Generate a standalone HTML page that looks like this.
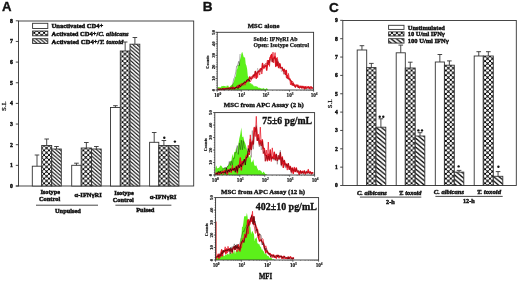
<!DOCTYPE html>
<html><head><meta charset="utf-8"><style>
html,body{margin:0;padding:0;background:#fff;width:520px;height:281px;overflow:hidden}
svg{display:block;will-change:transform;filter:blur(0.3px)}
</style></head><body>
<svg width="520" height="281" viewBox="0 0 520 281">
<rect width="520" height="281" fill="#fff"/>
<defs>
<pattern id="px" width="4.9" height="4.7" patternUnits="userSpaceOnUse"><rect width="4.9" height="4.7" fill="#fff"/><path d="M0,0L4.9,4.7M4.9,0L0,4.7" stroke="#000" stroke-width="0.8"/><circle cx="0" cy="0" r="1.06"/><circle cx="4.9" cy="0" r="1.06"/><circle cx="0" cy="4.7" r="1.06"/><circle cx="4.9" cy="4.7" r="1.06"/><circle cx="2.45" cy="2.35" r="1.06"/></pattern>
<pattern id="pd" width="4.1" height="3.6" patternUnits="userSpaceOnUse"><rect width="4.1" height="3.6" fill="#fff"/><path d="M-1,-0.878L5.1,4.478M-5.1,-0.878L1,4.478M3.1,-0.878L9.2,4.478" stroke="#000" stroke-width="1.05"/></pattern>
<pattern id="pdC" width="5.3" height="4.4" patternUnits="userSpaceOnUse"><rect width="5.3" height="4.4" fill="#fff"/><path d="M-1,-0.830L6.3,5.230M-6.3,-0.830L1,5.230M4.3,-0.830L11.6,5.230" stroke="#000" stroke-width="1.2"/></pattern>
</defs>
<text x="1.9" y="11.0" font-family="'Liberation Sans', sans-serif" font-size="13.2" font-weight="bold" font-style="normal" text-anchor="start" fill="#111" stroke="#111" stroke-width="0.35">A</text>
<rect x="18.5" y="21" width="175.2" height="165" fill="none" stroke="#333" stroke-width="0.9"/>
<line x1="15.8" y1="186" x2="18.5" y2="186" stroke="#333" stroke-width="0.9"/>
<line x1="15.8" y1="186.0" x2="18.5" y2="186.0" stroke="#333" stroke-width="0.9"/>
<text x="13.0" y="187.8" font-family="'Liberation Serif', serif" font-size="5.8" font-weight="bold" font-style="normal" text-anchor="end" fill="#111" stroke="#111" stroke-width="0.45">0</text>
<line x1="15.8" y1="165.35" x2="18.5" y2="165.35" stroke="#333" stroke-width="0.9"/>
<text x="13.0" y="167.15" font-family="'Liberation Serif', serif" font-size="5.8" font-weight="bold" font-style="normal" text-anchor="end" fill="#111" stroke="#111" stroke-width="0.45">1</text>
<line x1="15.8" y1="144.7" x2="18.5" y2="144.7" stroke="#333" stroke-width="0.9"/>
<text x="13.0" y="146.5" font-family="'Liberation Serif', serif" font-size="5.8" font-weight="bold" font-style="normal" text-anchor="end" fill="#111" stroke="#111" stroke-width="0.45">2</text>
<line x1="15.8" y1="124.05000000000001" x2="18.5" y2="124.05000000000001" stroke="#333" stroke-width="0.9"/>
<text x="13.0" y="125.85000000000001" font-family="'Liberation Serif', serif" font-size="5.8" font-weight="bold" font-style="normal" text-anchor="end" fill="#111" stroke="#111" stroke-width="0.45">3</text>
<line x1="15.8" y1="103.4" x2="18.5" y2="103.4" stroke="#333" stroke-width="0.9"/>
<text x="13.0" y="105.2" font-family="'Liberation Serif', serif" font-size="5.8" font-weight="bold" font-style="normal" text-anchor="end" fill="#111" stroke="#111" stroke-width="0.45">4</text>
<line x1="15.8" y1="82.75" x2="18.5" y2="82.75" stroke="#333" stroke-width="0.9"/>
<text x="13.0" y="84.55" font-family="'Liberation Serif', serif" font-size="5.8" font-weight="bold" font-style="normal" text-anchor="end" fill="#111" stroke="#111" stroke-width="0.45">5</text>
<line x1="15.8" y1="62.10000000000001" x2="18.5" y2="62.10000000000001" stroke="#333" stroke-width="0.9"/>
<text x="13.0" y="63.900000000000006" font-family="'Liberation Serif', serif" font-size="5.8" font-weight="bold" font-style="normal" text-anchor="end" fill="#111" stroke="#111" stroke-width="0.45">6</text>
<line x1="15.8" y1="41.45000000000002" x2="18.5" y2="41.45000000000002" stroke="#333" stroke-width="0.9"/>
<text x="13.0" y="43.250000000000014" font-family="'Liberation Serif', serif" font-size="5.8" font-weight="bold" font-style="normal" text-anchor="end" fill="#111" stroke="#111" stroke-width="0.45">7</text>
<line x1="15.8" y1="20.80000000000001" x2="18.5" y2="20.80000000000001" stroke="#333" stroke-width="0.9"/>
<text x="13.0" y="22.600000000000012" font-family="'Liberation Serif', serif" font-size="5.8" font-weight="bold" font-style="normal" text-anchor="end" fill="#111" stroke="#111" stroke-width="0.45">8</text>
<text x="0" y="0" font-family="'Liberation Serif', serif" font-size="7.0" font-weight="normal" font-style="normal" text-anchor="middle" fill="#111" stroke="#111" stroke-width="0.25" transform="translate(6.2,106.1) rotate(-90)">S.I.</text>
<rect x="32.6" y="23.3" width="15.2" height="5.199999999999999" fill="#fff" stroke="#333" stroke-width="0.9"/>
<rect x="32.6" y="31.0" width="15.2" height="4.799999999999997" fill="url(#px)" stroke="#333" stroke-width="0.9"/>
<rect x="32.6" y="38.7" width="15.2" height="4.799999999999997" fill="url(#pd)" stroke="#333" stroke-width="0.9"/>
<text x="51.6" y="28.1" font-family="'Liberation Serif', serif" font-size="6.5" font-weight="bold" font-style="normal" text-anchor="start" fill="#111" stroke="#111" stroke-width="0.45" textLength="51.6" lengthAdjust="spacingAndGlyphs">Unactivated CD4+</text>
<text x="51.6" y="35.8" font-family="'Liberation Serif', serif" font-size="6.5" font-weight="bold" fill="#111" stroke="#111" stroke-width="0.45" textLength="77.0" lengthAdjust="spacingAndGlyphs">Activated CD4+/<tspan font-style="italic">C. albicans</tspan></text>
<text x="51.6" y="43.5" font-family="'Liberation Serif', serif" font-size="6.5" font-weight="bold" fill="#111" stroke="#111" stroke-width="0.45" textLength="71.8" lengthAdjust="spacingAndGlyphs">Activated CD4+/<tspan font-style="italic">T. toxoid</tspan></text>
<rect x="32.3" y="166.2" width="9.400000000000006" height="19.80000000000001" fill="#fff" stroke="#333" stroke-width="0.9"/>
<line x1="37.0" y1="166.2" x2="37.0" y2="155" stroke="#333" stroke-width="0.9"/>
<line x1="34.7" y1="155" x2="39.3" y2="155" stroke="#333" stroke-width="0.9"/>
<rect x="41.7" y="145.5" width="10.0" height="40.5" fill="url(#px)" stroke="#333" stroke-width="0.9"/>
<line x1="46.7" y1="145.5" x2="46.7" y2="139" stroke="#333" stroke-width="0.9"/>
<line x1="44.400000000000006" y1="139" x2="49.0" y2="139" stroke="#333" stroke-width="0.9"/>
<rect x="51.7" y="149" width="9.599999999999994" height="37" fill="url(#pd)" stroke="#333" stroke-width="0.9"/>
<line x1="56.5" y1="149" x2="56.5" y2="146.5" stroke="#333" stroke-width="0.9"/>
<line x1="54.2" y1="146.5" x2="58.8" y2="146.5" stroke="#333" stroke-width="0.9"/>
<rect x="71.7" y="165.3" width="9.5" height="20.69999999999999" fill="#fff" stroke="#333" stroke-width="0.9"/>
<line x1="76.45" y1="165.3" x2="76.45" y2="163.2" stroke="#333" stroke-width="0.9"/>
<line x1="74.15" y1="163.2" x2="78.75" y2="163.2" stroke="#333" stroke-width="0.9"/>
<rect x="81.2" y="148" width="10.299999999999997" height="38" fill="url(#px)" stroke="#333" stroke-width="0.9"/>
<line x1="86.35" y1="148" x2="86.35" y2="142.5" stroke="#333" stroke-width="0.9"/>
<line x1="84.05" y1="142.5" x2="88.64999999999999" y2="142.5" stroke="#333" stroke-width="0.9"/>
<rect x="91.5" y="149" width="9.700000000000003" height="37" fill="url(#pd)" stroke="#333" stroke-width="0.9"/>
<line x1="96.35" y1="149" x2="96.35" y2="146.5" stroke="#333" stroke-width="0.9"/>
<line x1="94.05" y1="146.5" x2="98.64999999999999" y2="146.5" stroke="#333" stroke-width="0.9"/>
<rect x="110.5" y="107.5" width="9.799999999999997" height="78.5" fill="#fff" stroke="#333" stroke-width="0.9"/>
<line x1="115.4" y1="107.5" x2="115.4" y2="105.7" stroke="#333" stroke-width="0.9"/>
<line x1="113.10000000000001" y1="105.7" x2="117.7" y2="105.7" stroke="#333" stroke-width="0.9"/>
<rect x="120.3" y="51" width="9.700000000000003" height="135" fill="url(#px)" stroke="#333" stroke-width="0.9"/>
<line x1="125.15" y1="51" x2="125.15" y2="42" stroke="#333" stroke-width="0.9"/>
<line x1="122.85000000000001" y1="42" x2="127.45" y2="42" stroke="#333" stroke-width="0.9"/>
<rect x="130" y="44.2" width="9.800000000000011" height="141.8" fill="url(#pd)" stroke="#333" stroke-width="0.9"/>
<line x1="134.9" y1="44.2" x2="134.9" y2="37.5" stroke="#333" stroke-width="0.9"/>
<line x1="132.6" y1="37.5" x2="137.20000000000002" y2="37.5" stroke="#333" stroke-width="0.9"/>
<rect x="149.6" y="142.3" width="9.200000000000017" height="43.69999999999999" fill="#fff" stroke="#333" stroke-width="0.9"/>
<line x1="154.2" y1="142.3" x2="154.2" y2="132.5" stroke="#333" stroke-width="0.9"/>
<line x1="151.89999999999998" y1="132.5" x2="156.5" y2="132.5" stroke="#333" stroke-width="0.9"/>
<rect x="158.8" y="145.5" width="10.199999999999989" height="40.5" fill="url(#px)" stroke="#333" stroke-width="0.9"/>
<line x1="163.9" y1="145.5" x2="163.9" y2="140.5" stroke="#333" stroke-width="0.9"/>
<line x1="161.6" y1="140.5" x2="166.20000000000002" y2="140.5" stroke="#333" stroke-width="0.9"/>
<rect x="169" y="145.6" width="9.900000000000006" height="40.400000000000006" fill="url(#pd)" stroke="#333" stroke-width="0.9"/>
<circle cx="164.3" cy="137.8" r="1.2" fill="#111"/>
<circle cx="174.9" cy="141.6" r="1.2" fill="#111"/>
<text x="50.2" y="193.8" font-family="'Liberation Serif', serif" font-size="6.4" font-weight="bold" font-style="normal" text-anchor="middle" fill="#111" stroke="#111" stroke-width="0.45" textLength="19.6" lengthAdjust="spacingAndGlyphs">Isotype</text>
<text x="49.6" y="201.2" font-family="'Liberation Serif', serif" font-size="6.4" font-weight="bold" font-style="normal" text-anchor="middle" fill="#111" stroke="#111" stroke-width="0.45" textLength="21.4" lengthAdjust="spacingAndGlyphs">Control</text>
<text x="124.0" y="195.0" font-family="'Liberation Serif', serif" font-size="6.4" font-weight="bold" font-style="normal" text-anchor="middle" fill="#111" stroke="#111" stroke-width="0.45" textLength="19.6" lengthAdjust="spacingAndGlyphs">Isotype</text>
<text x="123.3" y="202.0" font-family="'Liberation Serif', serif" font-size="6.4" font-weight="bold" font-style="normal" text-anchor="middle" fill="#111" stroke="#111" stroke-width="0.45" textLength="21.1" lengthAdjust="spacingAndGlyphs">Control</text>
<text x="88.2" y="197.4" font-family="'Liberation Serif', serif" font-size="6.4" font-weight="bold" font-style="normal" text-anchor="middle" fill="#111" stroke="#111" stroke-width="0.45" textLength="27.2" lengthAdjust="spacingAndGlyphs">α-IFNγRI</text>
<text x="163.1" y="198.7" font-family="'Liberation Serif', serif" font-size="6.4" font-weight="bold" font-style="normal" text-anchor="middle" fill="#111" stroke="#111" stroke-width="0.45" textLength="26.9" lengthAdjust="spacingAndGlyphs">α-IFNγRI</text>
<line x1="36" y1="205.2" x2="98" y2="205.2" stroke="#333" stroke-width="0.9"/>
<line x1="115.4" y1="205.2" x2="171.4" y2="205.2" stroke="#333" stroke-width="0.9"/>
<text x="67.9" y="212.8" font-family="'Liberation Serif', serif" font-size="6.4" font-weight="bold" font-style="normal" text-anchor="middle" fill="#111" stroke="#111" stroke-width="0.45" textLength="25.8" lengthAdjust="spacingAndGlyphs">Unpulsed</text>
<text x="145.3" y="212.1" font-family="'Liberation Serif', serif" font-size="6.4" font-weight="bold" font-style="normal" text-anchor="middle" fill="#111" stroke="#111" stroke-width="0.45" textLength="18.2" lengthAdjust="spacingAndGlyphs">Pulsed</text>
<text x="202.7" y="11.4" font-family="'Liberation Sans', sans-serif" font-size="13.6" font-weight="bold" font-style="normal" text-anchor="start" fill="#111" stroke="#111" stroke-width="0.35">B</text>
<path d="M217.7,90 L217.70,87.54 L218.40,86.95 L219.10,87.24 L219.80,87.15 L220.50,87.39 L221.20,86.80 L221.90,85.79 L222.60,86.17 L223.30,85.70 L224.00,86.17 L224.70,86.01 L225.40,86.09 L226.10,87.30 L226.80,85.51 L227.50,85.69 L228.20,85.60 L228.90,86.99 L229.60,86.88 L230.30,86.09 L231.00,85.61 L231.70,84.84 L232.40,84.60 L233.10,83.35 L233.80,81.96 L234.50,78.90 L235.20,77.01 L235.90,76.17 L236.60,69.92 L237.30,68.73 L238.00,64.83 L238.70,65.20 L239.40,62.94 L240.10,59.74 L240.80,56.93 L241.50,53.16 L242.20,51.71 L242.90,53.89 L243.60,56.79 L244.30,57.72 L245.00,57.00 L245.70,63.89 L246.40,65.38 L247.10,68.80 L247.80,75.99 L248.50,77.36 L249.20,78.08 L249.90,83.73 L250.60,82.91 L251.30,83.40 L252.00,84.70 L252.70,84.30 L253.40,85.41 L254.10,86.85 L254.80,85.68 L255.50,86.26 L256.20,86.47 L256.90,86.33 L257.60,87.11 L258.30,87.39 L259.00,88.30 L259.70,87.42 L260.40,88.17 L261.10,88.18 L261.80,88.67 L262.50,88.62 L263.20,88.50 L263.90,87.78 L264.60,89.34 L265.30,89.17 L266.00,88.56 L266.70,88.19 L267.40,88.84 L268.10,89.95 L268.80,90.00 L269.50,90.00 L270.20,90.00 L270.90,90.00 L271.60,90.00 L272.30,90.00 L273.00,90.00 L273.70,90.00 L274.40,90.00 L275.10,90.00 L275.80,90.00 L276.50,90.00 L277.20,90.00 L277.90,90.00 L278.60,90.00 L279.30,90.00 L280.00,90.00 L280.70,90.00 L281.40,90.00 L282.10,90.00 L282.80,90.00 L283.50,90.00 L284.20,90.00 L284.90,90.00 L285.60,90.00 L286.30,90.00 L287.00,90.00 L287.70,90.00 L288.40,90.00 L289.10,90.00 L289.80,90.00 L290.50,90.00 L291.20,90.00 L291.90,90.00 L292.60,90.00 L293.30,90.00 L294.00,90.00 L294.70,90.00 L295.40,90.00 L296.10,90.00 L296.80,90.00 L297.50,90.00 L298.20,90.00 L298.90,90.00 L299.60,90.00 L300.30,90.00 L301.00,90.00 L301.70,90.00 L302.40,90.00 L303.10,90.00 L303.80,90.00 L304.50,90.00 L305.20,90.00 L305.90,90.00 L306.60,90.00 L307.30,90.00 L308.00,90.00 L308.70,90.00 L309.40,90.00 L310.10,90.00 L310.80,90.00 L311.50,90.00 L312.20,90.00 L312.90,90.00 L313.1,90 Z" fill="#5cf01a" stroke="none"/>
<path d="M230.30,89.60 L231.00,86.98 L231.70,87.03 L232.40,86.50 L233.10,82.12 L233.80,78.79 L234.50,77.67 L235.20,74.73 L235.90,71.77 L236.60,66.17 L237.30,66.21 L238.00,63.96 L238.70,61.34 L239.40,65.76 L240.10,54.01" fill="none" stroke="#111" stroke-width="0.6" opacity="0.6"/>
<path d="M217.70,89.18 L218.40,89.25 L219.10,89.60 L219.80,89.55 L220.50,88.99 L221.20,89.60 L221.90,89.27 L222.60,88.76 L223.30,89.60 L224.00,88.41 L224.70,88.79 L225.40,89.02 L226.10,88.75 L226.80,88.52 L227.50,88.69 L228.20,88.13 L228.90,88.94 L229.60,88.75 L230.30,87.93 L231.00,88.39 L231.70,88.81 L232.40,87.69 L233.10,87.23 L233.80,88.21 L234.50,88.66 L235.20,87.75 L235.90,87.62 L236.60,87.48 L237.30,85.99 L238.00,87.53 L238.70,85.50 L239.40,87.26 L240.10,86.61 L240.80,84.96 L241.50,84.05 L242.20,83.85 L242.90,83.91 L243.60,83.69 L244.30,83.26 L245.00,82.36 L245.70,82.71 L246.40,81.69 L247.10,80.83 L247.80,81.04 L248.50,79.56 L249.20,79.31 L249.90,76.84 L250.60,78.51 L251.30,78.94 L252.00,78.25 L252.70,77.09 L253.40,75.01 L254.10,76.34 L254.80,74.56 L255.50,71.52 L256.20,78.24 L256.90,75.22 L257.60,72.23 L258.30,71.32 L259.00,70.97 L259.70,71.56 L260.40,68.91 L261.10,68.97 L261.80,69.89 L262.50,63.49 L263.20,66.91 L263.90,68.11 L264.60,66.56 L265.30,66.17 L266.00,65.13 L266.70,70.11 L267.40,64.65 L268.10,60.64 L268.80,64.41 L269.50,60.90 L270.20,57.55 L270.90,56.87 L271.60,54.46 L272.30,61.64 L273.00,58.59 L273.70,58.74 L274.40,57.03 L275.10,56.84 L275.80,66.40 L276.50,58.80 L277.20,65.50 L277.90,61.87 L278.60,67.57 L279.30,65.03 L280.00,63.89 L280.70,67.57 L281.40,67.83 L282.10,67.60 L282.80,69.80 L283.50,71.16 L284.20,69.20 L284.90,71.04 L285.60,74.40 L286.30,70.48 L287.00,77.80 L287.70,75.67 L288.40,78.44 L289.10,78.83 L289.80,79.04 L290.50,80.66 L291.20,81.14 L291.90,84.58 L292.60,85.07 L293.30,83.34 L294.00,85.45 L294.70,85.99 L295.40,86.85 L296.10,84.96 L296.80,85.59 L297.50,85.20 L298.20,87.28 L298.90,86.72 L299.60,87.74 L300.30,86.52 L301.00,86.14 L301.70,88.02 L302.40,86.49 L303.10,86.90 L303.80,87.70 L304.50,88.89 L305.20,86.74 L305.90,87.74 L306.60,88.09 L307.30,87.49 L308.00,87.52 L308.70,86.87 L309.40,88.47 L310.10,87.17 L310.80,86.99 L311.50,87.05 L312.20,88.07 L312.90,88.44" fill="none" stroke="#dc1420" stroke-width="1.45" stroke-linejoin="round"/>
<path d="M217.70,89.09 L218.40,89.38 L219.10,89.33 L219.80,88.75 L220.50,89.40 L221.20,89.60 L221.90,89.37 L222.60,89.60 L223.30,88.72 L224.00,88.91 L224.70,89.32 L225.40,88.96 L226.10,88.45 L226.80,88.78 L227.50,88.00 L228.20,88.72 L228.90,87.99 L229.60,87.63 L230.30,87.47 L231.00,88.83 L231.70,87.76 L232.40,89.48 L233.10,88.84 L233.80,89.36 L234.50,87.00 L235.20,88.61 L235.90,87.53 L236.60,87.43 L237.30,87.04 L238.00,87.29 L238.70,86.27 L239.40,84.47 L240.10,85.90 L240.80,84.95 L241.50,83.98 L242.20,84.91 L242.90,85.78 L243.60,84.53 L244.30,82.03 L245.00,85.20 L245.70,83.33 L246.40,80.59 L247.10,80.37 L247.80,81.03 L248.50,79.30 L249.20,79.80 L249.90,81.49 L250.60,81.58 L251.30,79.43 L252.00,76.07 L252.70,78.09 L253.40,78.11 L254.10,77.27 L254.80,78.15 L255.50,74.78 L256.20,76.30 L256.90,72.54 L257.60,77.61 L258.30,71.33 L259.00,72.79 L259.70,75.06 L260.40,68.51 L261.10,70.14 L261.80,74.05 L262.50,70.31 L263.20,66.93 L263.90,68.10 L264.60,64.45 L265.30,63.84 L266.00,63.32 L266.70,63.47 L267.40,60.15 L268.10,61.12 L268.80,60.59 L269.50,66.43 L270.20,57.26 L270.90,55.19 L271.60,58.85 L272.30,58.92 L273.00,52.20 L273.70,62.94 L274.40,57.17 L275.10,52.61 L275.80,62.80 L276.50,59.39 L277.20,57.30 L277.90,63.66 L278.60,62.97 L279.30,63.14 L280.00,68.55 L280.70,67.48 L281.40,67.51 L282.10,67.23 L282.80,70.14 L283.50,71.43 L284.20,74.11 L284.90,73.62 L285.60,72.10 L286.30,74.75 L287.00,77.61 L287.70,78.58 L288.40,73.40 L289.10,77.11 L289.80,78.96 L290.50,84.87 L291.20,81.01 L291.90,82.22 L292.60,81.28 L293.30,83.45 L294.00,84.58 L294.70,84.44 L295.40,87.62 L296.10,84.99 L296.80,85.88 L297.50,87.05 L298.20,85.31 L298.90,85.07 L299.60,88.14 L300.30,87.65 L301.00,87.01 L301.70,87.28 L302.40,87.83 L303.10,88.32 L303.80,85.92 L304.50,86.81 L305.20,88.57 L305.90,88.71 L306.60,86.41 L307.30,86.99 L308.00,86.40 L308.70,87.20 L309.40,88.48 L310.10,87.68 L310.80,89.48 L311.50,88.47 L312.20,88.01 L312.90,87.62" fill="none" stroke="#e81828" stroke-width="0.75" stroke-linejoin="round"/>
<path d="M217.70,89.60 L218.40,89.46 L219.10,89.23 L219.80,89.20 L220.50,89.06 L221.20,89.17 L221.90,89.32 L222.60,88.85 L223.30,89.09 L224.00,89.40 L224.70,89.28 L225.40,88.96 L226.10,88.94 L226.80,88.75 L227.50,88.75 L228.20,88.60 L228.90,88.68 L229.60,89.18 L230.30,88.25 L231.00,87.84 L231.70,88.09 L232.40,88.33 L233.10,87.82 L233.80,88.52 L234.50,88.98 L235.20,87.62 L235.90,88.14 L236.60,86.76 L237.30,87.80 L238.00,88.74 L238.70,87.31 L239.40,84.94 L240.10,86.26 L240.80,86.74 L241.50,85.81 L242.20,84.18 L242.90,83.76 L243.60,83.66 L244.30,81.82 L245.00,82.21 L245.70,82.53 L246.40,81.31 L247.10,79.51 L247.80,79.82 L248.50,79.23 L249.20,81.49 L249.90,79.77" fill="none" stroke="#200" stroke-width="0.8" opacity="0.9"/>
<path d="M249.90,79.77 L250.60,77.94 L251.30,78.76 L252.00,76.13 L252.70,76.17 L253.40,75.04 L254.10,76.15 L254.80,71.06 L255.50,72.50 L256.20,74.28 L256.90,73.13 L257.60,68.12 L258.30,72.64 L259.00,69.82 L259.70,68.96 L260.40,70.13 L261.10,71.73 L261.80,68.52 L262.50,67.55 L263.20,65.38 L263.90,65.41 L264.60,66.31 L265.30,63.93 L266.00,63.87 L266.70,63.86 L267.40,63.48 L268.10,63.38 L268.80,60.27 L269.50,63.14 L270.20,61.20 L270.90,58.86 L271.60,61.48 L272.30,58.62 L273.00,62.54 L273.70,59.55 L274.40,57.16 L275.10,58.06 L275.80,60.37 L276.50,61.77 L277.20,65.43 L277.90,59.39 L278.60,63.30 L279.30,63.12 L280.00,68.14 L280.70,67.64 L281.40,71.77 L282.10,67.64 L282.80,68.31 L283.50,74.47 L284.20,72.03 L284.90,71.77 L285.60,76.87 L286.30,77.92 L287.00,77.67 L287.70,78.00 L288.40,80.09 L289.10,78.97 L289.80,79.64 L290.50,80.14 L291.20,81.06 L291.90,81.18 L292.60,82.20 L293.30,85.33 L294.00,85.00 L294.70,86.02 L295.40,86.50 L296.10,86.09 L296.80,86.20 L297.50,85.98 L298.20,87.79 L298.90,87.67 L299.60,86.92 L300.30,87.22 L301.00,87.47 L301.70,87.47 L302.40,88.02 L303.10,87.09 L303.80,87.35 L304.50,87.67 L305.20,88.08 L305.90,87.79 L306.60,89.44 L307.30,88.36 L308.00,87.75 L308.70,88.74 L309.40,87.71 L310.10,87.78 L310.80,88.74 L311.50,88.08 L312.20,88.15 L312.90,87.72" fill="none" stroke="#200" stroke-width="0.5" opacity="0.35"/>
<rect x="217.2" y="32.3" width="96.40000000000003" height="57.7" fill="none" stroke="#333" stroke-width="0.9"/>
<text x="247.8" y="28.3" font-family="'Liberation Serif', serif" font-size="6.9" font-weight="bold" font-style="normal" text-anchor="start" fill="#111" stroke="#111" stroke-width="0.35" textLength="31.599999999999966" lengthAdjust="spacingAndGlyphs">MSC alone</text>
<line x1="215.39999999999998" y1="90.0" x2="217.2" y2="90.0" stroke="#333" stroke-width="0.7"/>
<text x="0" y="0" font-family="'Liberation Serif', serif" font-size="4.9" font-weight="bold" font-style="normal" text-anchor="middle" fill="#111" stroke="#111" stroke-width="0.15" transform="translate(214.6,90.0) rotate(-90)">0</text>
<line x1="215.39999999999998" y1="78.46" x2="217.2" y2="78.46" stroke="#333" stroke-width="0.7"/>
<text x="0" y="0" font-family="'Liberation Serif', serif" font-size="4.9" font-weight="bold" font-style="normal" text-anchor="middle" fill="#111" stroke="#111" stroke-width="0.15" transform="translate(214.6,78.46) rotate(-90)">10</text>
<line x1="215.39999999999998" y1="66.92" x2="217.2" y2="66.92" stroke="#333" stroke-width="0.7"/>
<text x="0" y="0" font-family="'Liberation Serif', serif" font-size="4.9" font-weight="bold" font-style="normal" text-anchor="middle" fill="#111" stroke="#111" stroke-width="0.15" transform="translate(214.6,66.92) rotate(-90)">20</text>
<line x1="215.39999999999998" y1="55.379999999999995" x2="217.2" y2="55.379999999999995" stroke="#333" stroke-width="0.7"/>
<text x="0" y="0" font-family="'Liberation Serif', serif" font-size="4.9" font-weight="bold" font-style="normal" text-anchor="middle" fill="#111" stroke="#111" stroke-width="0.15" transform="translate(214.6,55.379999999999995) rotate(-90)">30</text>
<line x1="215.39999999999998" y1="43.839999999999996" x2="217.2" y2="43.839999999999996" stroke="#333" stroke-width="0.7"/>
<text x="0" y="0" font-family="'Liberation Serif', serif" font-size="4.9" font-weight="bold" font-style="normal" text-anchor="middle" fill="#111" stroke="#111" stroke-width="0.15" transform="translate(214.6,43.839999999999996) rotate(-90)">40</text>
<line x1="215.39999999999998" y1="32.3" x2="217.2" y2="32.3" stroke="#333" stroke-width="0.7"/>
<text x="0" y="0" font-family="'Liberation Serif', serif" font-size="4.9" font-weight="bold" font-style="normal" text-anchor="middle" fill="#111" stroke="#111" stroke-width="0.15" transform="translate(214.6,32.3) rotate(-90)">50</text>
<line x1="216.2" y1="90.0" x2="217.2" y2="90.0" stroke="#333" stroke-width="0.5"/>
<line x1="216.2" y1="87.692" x2="217.2" y2="87.692" stroke="#333" stroke-width="0.5"/>
<line x1="216.2" y1="85.384" x2="217.2" y2="85.384" stroke="#333" stroke-width="0.5"/>
<line x1="216.2" y1="83.076" x2="217.2" y2="83.076" stroke="#333" stroke-width="0.5"/>
<line x1="216.2" y1="80.768" x2="217.2" y2="80.768" stroke="#333" stroke-width="0.5"/>
<line x1="216.2" y1="78.46000000000001" x2="217.2" y2="78.46000000000001" stroke="#333" stroke-width="0.5"/>
<line x1="216.2" y1="76.152" x2="217.2" y2="76.152" stroke="#333" stroke-width="0.5"/>
<line x1="216.2" y1="73.844" x2="217.2" y2="73.844" stroke="#333" stroke-width="0.5"/>
<line x1="216.2" y1="71.536" x2="217.2" y2="71.536" stroke="#333" stroke-width="0.5"/>
<line x1="216.2" y1="69.228" x2="217.2" y2="69.228" stroke="#333" stroke-width="0.5"/>
<line x1="216.2" y1="66.92" x2="217.2" y2="66.92" stroke="#333" stroke-width="0.5"/>
<line x1="216.2" y1="64.612" x2="217.2" y2="64.612" stroke="#333" stroke-width="0.5"/>
<line x1="216.2" y1="62.303999999999995" x2="217.2" y2="62.303999999999995" stroke="#333" stroke-width="0.5"/>
<line x1="216.2" y1="59.995999999999995" x2="217.2" y2="59.995999999999995" stroke="#333" stroke-width="0.5"/>
<line x1="216.2" y1="57.687999999999995" x2="217.2" y2="57.687999999999995" stroke="#333" stroke-width="0.5"/>
<line x1="216.2" y1="55.38" x2="217.2" y2="55.38" stroke="#333" stroke-width="0.5"/>
<line x1="216.2" y1="53.071999999999996" x2="217.2" y2="53.071999999999996" stroke="#333" stroke-width="0.5"/>
<line x1="216.2" y1="50.763999999999996" x2="217.2" y2="50.763999999999996" stroke="#333" stroke-width="0.5"/>
<line x1="216.2" y1="48.455999999999996" x2="217.2" y2="48.455999999999996" stroke="#333" stroke-width="0.5"/>
<line x1="216.2" y1="46.148" x2="217.2" y2="46.148" stroke="#333" stroke-width="0.5"/>
<line x1="216.2" y1="43.84" x2="217.2" y2="43.84" stroke="#333" stroke-width="0.5"/>
<line x1="216.2" y1="41.532" x2="217.2" y2="41.532" stroke="#333" stroke-width="0.5"/>
<line x1="216.2" y1="39.224" x2="217.2" y2="39.224" stroke="#333" stroke-width="0.5"/>
<line x1="216.2" y1="36.916" x2="217.2" y2="36.916" stroke="#333" stroke-width="0.5"/>
<line x1="216.2" y1="34.60799999999999" x2="217.2" y2="34.60799999999999" stroke="#333" stroke-width="0.5"/>
<line x1="216.2" y1="32.3" x2="217.2" y2="32.3" stroke="#333" stroke-width="0.5"/>
<text x="0" y="0" font-family="'Liberation Serif', serif" font-size="4.3" font-weight="bold" font-style="normal" text-anchor="middle" fill="#111" stroke="#111" stroke-width="0.15" transform="translate(209.2,62.15) rotate(-90)">Counts</text>
<line x1="217.2" y1="90" x2="217.2" y2="91.8" stroke="#333" stroke-width="0.7"/>
<text x="217.7" y="96.6" font-family="'Liberation Serif', serif" font-size="5.2" font-weight="bold" text-anchor="middle" fill="#111" stroke="#111" stroke-width="0.15">10<tspan font-size="3.5" dy="-2.0">0</tspan></text>
<line x1="224.45482289550193" y1="90" x2="224.45482289550193" y2="91.0" stroke="#333" stroke-width="0.4"/>
<line x1="228.69862223874387" y1="90" x2="228.69862223874387" y2="91.0" stroke="#333" stroke-width="0.4"/>
<line x1="231.70964579100388" y1="90" x2="231.70964579100388" y2="91.0" stroke="#333" stroke-width="0.4"/>
<line x1="234.04517710449804" y1="90" x2="234.04517710449804" y2="91.0" stroke="#333" stroke-width="0.4"/>
<line x1="235.9534451342458" y1="90" x2="235.9534451342458" y2="91.0" stroke="#333" stroke-width="0.4"/>
<line x1="237.5668627643436" y1="90" x2="237.5668627643436" y2="91.0" stroke="#333" stroke-width="0.4"/>
<line x1="238.96446868650582" y1="90" x2="238.96446868650582" y2="91.0" stroke="#333" stroke-width="0.4"/>
<line x1="240.19724447748771" y1="90" x2="240.19724447748771" y2="91.0" stroke="#333" stroke-width="0.4"/>
<line x1="241.3" y1="90" x2="241.3" y2="91.8" stroke="#333" stroke-width="0.7"/>
<text x="241.8" y="96.6" font-family="'Liberation Serif', serif" font-size="5.2" font-weight="bold" text-anchor="middle" fill="#111" stroke="#111" stroke-width="0.15">10<tspan font-size="3.5" dy="-2.0">1</tspan></text>
<line x1="248.55482289550196" y1="90" x2="248.55482289550196" y2="91.0" stroke="#333" stroke-width="0.4"/>
<line x1="252.7986222387439" y1="90" x2="252.7986222387439" y2="91.0" stroke="#333" stroke-width="0.4"/>
<line x1="255.8096457910039" y1="90" x2="255.8096457910039" y2="91.0" stroke="#333" stroke-width="0.4"/>
<line x1="258.1451771044981" y1="90" x2="258.1451771044981" y2="91.0" stroke="#333" stroke-width="0.4"/>
<line x1="260.0534451342458" y1="90" x2="260.0534451342458" y2="91.0" stroke="#333" stroke-width="0.4"/>
<line x1="261.6668627643436" y1="90" x2="261.6668627643436" y2="91.0" stroke="#333" stroke-width="0.4"/>
<line x1="263.06446868650585" y1="90" x2="263.06446868650585" y2="91.0" stroke="#333" stroke-width="0.4"/>
<line x1="264.29724447748777" y1="90" x2="264.29724447748777" y2="91.0" stroke="#333" stroke-width="0.4"/>
<line x1="265.4" y1="90" x2="265.4" y2="91.8" stroke="#333" stroke-width="0.7"/>
<text x="265.9" y="96.6" font-family="'Liberation Serif', serif" font-size="5.2" font-weight="bold" text-anchor="middle" fill="#111" stroke="#111" stroke-width="0.15">10<tspan font-size="3.5" dy="-2.0">2</tspan></text>
<line x1="272.6548228955019" y1="90" x2="272.6548228955019" y2="91.0" stroke="#333" stroke-width="0.4"/>
<line x1="276.8986222387438" y1="90" x2="276.8986222387438" y2="91.0" stroke="#333" stroke-width="0.4"/>
<line x1="279.90964579100387" y1="90" x2="279.90964579100387" y2="91.0" stroke="#333" stroke-width="0.4"/>
<line x1="282.24517710449805" y1="90" x2="282.24517710449805" y2="91.0" stroke="#333" stroke-width="0.4"/>
<line x1="284.15344513424577" y1="90" x2="284.15344513424577" y2="91.0" stroke="#333" stroke-width="0.4"/>
<line x1="285.76686276434356" y1="90" x2="285.76686276434356" y2="91.0" stroke="#333" stroke-width="0.4"/>
<line x1="287.1644686865058" y1="90" x2="287.1644686865058" y2="91.0" stroke="#333" stroke-width="0.4"/>
<line x1="288.39724447748773" y1="90" x2="288.39724447748773" y2="91.0" stroke="#333" stroke-width="0.4"/>
<line x1="289.5" y1="90" x2="289.5" y2="91.8" stroke="#333" stroke-width="0.7"/>
<text x="290.0" y="96.6" font-family="'Liberation Serif', serif" font-size="5.2" font-weight="bold" text-anchor="middle" fill="#111" stroke="#111" stroke-width="0.15">10<tspan font-size="3.5" dy="-2.0">3</tspan></text>
<line x1="296.75482289550195" y1="90" x2="296.75482289550195" y2="91.0" stroke="#333" stroke-width="0.4"/>
<line x1="300.99862223874385" y1="90" x2="300.99862223874385" y2="91.0" stroke="#333" stroke-width="0.4"/>
<line x1="304.0096457910039" y1="90" x2="304.0096457910039" y2="91.0" stroke="#333" stroke-width="0.4"/>
<line x1="306.3451771044981" y1="90" x2="306.3451771044981" y2="91.0" stroke="#333" stroke-width="0.4"/>
<line x1="308.2534451342458" y1="90" x2="308.2534451342458" y2="91.0" stroke="#333" stroke-width="0.4"/>
<line x1="309.8668627643436" y1="90" x2="309.8668627643436" y2="91.0" stroke="#333" stroke-width="0.4"/>
<line x1="311.26446868650584" y1="90" x2="311.26446868650584" y2="91.0" stroke="#333" stroke-width="0.4"/>
<line x1="312.49724447748775" y1="90" x2="312.49724447748775" y2="91.0" stroke="#333" stroke-width="0.4"/>
<line x1="313.6" y1="90" x2="313.6" y2="91.8" stroke="#333" stroke-width="0.7"/>
<text x="314.1" y="96.6" font-family="'Liberation Serif', serif" font-size="5.2" font-weight="bold" text-anchor="middle" fill="#111" stroke="#111" stroke-width="0.15">10<tspan font-size="3.5" dy="-2.0">4</tspan></text>
<text x="253.5" y="40.5" font-family="'Liberation Serif', serif" font-size="6.3" font-weight="bold" font-style="normal" text-anchor="start" fill="#111" stroke="#111" stroke-width="0.25" textLength="43.9" lengthAdjust="spacingAndGlyphs">Solid:  IFNγRI Ab</text>
<text x="253.5" y="47.2" font-family="'Liberation Serif', serif" font-size="6.3" font-weight="bold" font-style="normal" text-anchor="start" fill="#111" stroke="#111" stroke-width="0.25" textLength="55.5" lengthAdjust="spacingAndGlyphs">Open:  Isotype Control</text>
<path d="M215.3,175 L215.30,168.82 L216.30,165.52 L217.30,168.40 L218.30,168.08 L219.30,167.46 L220.30,165.59 L221.30,165.83 L222.30,167.37 L223.30,168.72 L224.30,167.22 L225.30,168.10 L226.30,168.62 L227.30,165.91 L228.30,165.57 L229.30,163.16 L230.30,161.00 L231.30,161.81 L232.30,153.80 L233.30,157.89 L234.30,151.86 L235.30,152.23 L236.30,146.44 L237.30,153.50 L238.30,144.73 L239.30,138.40 L240.30,134.18 L241.30,127.40 L242.30,137.24 L243.30,136.42 L244.30,141.34 L245.30,143.57 L246.30,147.03 L247.30,151.06 L248.30,151.31 L249.30,158.12 L250.30,154.81 L251.30,162.59 L252.30,161.84 L253.30,159.33 L254.30,165.30 L255.30,166.09 L256.30,165.36 L257.30,168.26 L258.30,170.46 L259.30,169.96 L260.30,170.51 L261.30,171.05 L262.30,173.18 L263.30,171.60 L264.30,172.43 L265.30,173.98 L266.30,174.23 L267.30,175.00 L268.30,175.00 L269.30,175.00 L270.30,175.00 L271.30,175.00 L272.30,175.00 L273.30,175.00 L274.30,175.00 L275.30,175.00 L276.30,175.00 L277.30,175.00 L278.30,175.00 L279.30,175.00 L280.30,175.00 L281.30,175.00 L282.30,175.00 L283.30,175.00 L284.30,175.00 L285.30,175.00 L286.30,175.00 L287.30,175.00 L288.30,175.00 L289.30,175.00 L290.30,175.00 L291.30,175.00 L292.30,175.00 L293.30,175.00 L294.30,175.00 L295.30,175.00 L296.30,175.00 L297.30,175.00 L298.30,175.00 L299.30,175.00 L300.30,175.00 L301.30,175.00 L302.30,175.00 L303.30,175.00 L304.30,175.00 L305.30,175.00 L306.30,175.00 L307.30,175.00 L308.30,175.00 L309.30,175.00 L310.30,175.00 L311.30,175.00 L312.30,175.00 L313.30,175.00 L314.1,175 Z" fill="#5cf01a" stroke="none"/>
<path d="M216.30,174.13 L217.30,172.26 L218.30,173.47 L219.30,171.69 L220.30,172.36 L221.30,170.55 L222.30,171.64 L223.30,168.11 L224.30,169.10 L225.30,167.19 L226.30,168.76 L227.30,166.50 L228.30,166.20 L229.30,161.40 L230.30,165.46 L231.30,160.75 L232.30,165.64 L233.30,158.39 L234.30,158.43 L235.30,152.64 L236.30,152.60 L237.30,145.55 L238.30,154.44 L239.30,142.91 L240.30,149.74 L241.30,140.20 L242.30,149.84 L243.30,140.71 L244.30,148.07 L245.30,148.41" fill="none" stroke="#111" stroke-width="0.6" opacity="0.6"/>
<path d="M215.30,174.20 L216.30,173.58 L217.30,174.60 L218.30,173.29 L219.30,174.60 L220.30,172.83 L221.30,173.14 L222.30,171.87 L223.30,172.67 L224.30,170.76 L225.30,172.17 L226.30,170.83 L227.30,174.04 L228.30,169.69 L229.30,170.98 L230.30,169.58 L231.30,171.59 L232.30,167.98 L233.30,170.26 L234.30,168.50 L235.30,169.92 L236.30,166.99 L237.30,172.80 L238.30,165.28 L239.30,166.47 L240.30,157.95 L241.30,169.90 L242.30,161.63 L243.30,162.59 L244.30,160.32 L245.30,160.90 L246.30,156.72 L247.30,157.23 L248.30,153.46 L249.30,154.33 L250.30,139.27 L251.30,149.46 L252.30,141.94 L253.30,144.06 L254.30,127.98 L255.30,131.23 L256.30,127.47 L257.30,140.28 L258.30,135.24 L259.30,143.10 L260.30,140.59 L261.30,145.35 L262.30,139.84 L263.30,148.74 L264.30,148.58 L265.30,155.14 L266.30,155.51 L267.30,160.69 L268.30,154.27 L269.30,159.66 L270.30,149.98 L271.30,159.42 L272.30,157.02 L273.30,158.39 L274.30,152.28 L275.30,159.17 L276.30,154.67 L277.30,160.56 L278.30,158.09 L279.30,158.69 L280.30,152.79 L281.30,164.73 L282.30,157.28 L283.30,167.38 L284.30,160.54 L285.30,164.51 L286.30,164.08 L287.30,167.43 L288.30,163.91 L289.30,169.19 L290.30,166.45 L291.30,171.00 L292.30,168.03 L293.30,172.97 L294.30,168.26 L295.30,171.44 L296.30,168.06 L297.30,172.07 L298.30,171.17 L299.30,174.60 L300.30,171.21 L301.30,173.12 L302.30,171.36 L303.30,173.05 L304.30,170.79 L305.30,174.07 L306.30,172.01 L307.30,172.85 L308.30,170.73 L309.30,172.92 L310.30,171.97 L311.30,173.39 L312.30,172.69 L313.30,173.02" fill="none" stroke="#dc1420" stroke-width="1.45" stroke-linejoin="round"/>
<path d="M215.30,174.30 L216.30,172.41 L217.30,174.60 L218.30,172.80 L219.30,174.37 L220.30,171.74 L221.30,172.84 L222.30,171.26 L223.30,174.60 L224.30,171.44 L225.30,172.05 L226.30,171.24 L227.30,174.44 L228.30,171.02 L229.30,172.27 L230.30,169.63 L231.30,172.87 L232.30,165.06 L233.30,169.61 L234.30,168.46 L235.30,170.24 L236.30,165.83 L237.30,168.49 L238.30,165.22 L239.30,167.95 L240.30,160.46 L241.30,166.82 L242.30,163.16 L243.30,165.34 L244.30,160.18 L245.30,160.76 L246.30,154.67 L247.30,157.21 L248.30,145.38 L249.30,154.56 L250.30,134.85 L251.30,148.90 L252.30,141.84 L253.30,139.58 L254.30,126.92 L255.30,136.56 L256.30,116.34 L257.30,140.80 L258.30,134.11 L259.30,145.40 L260.30,127.14 L261.30,146.05 L262.30,145.14 L263.30,153.76 L264.30,148.63 L265.30,161.35 L266.30,150.06 L267.30,159.58 L268.30,142.03 L269.30,160.93 L270.30,155.37 L271.30,161.52 L272.30,147.86 L273.30,157.85 L274.30,156.87 L275.30,160.22 L276.30,154.27 L277.30,160.81 L278.30,155.32 L279.30,158.81 L280.30,158.87 L281.30,160.38 L282.30,156.60 L283.30,163.58 L284.30,162.34 L285.30,166.49 L286.30,164.83 L287.30,170.10 L288.30,163.31 L289.30,169.97 L290.30,167.17 L291.30,172.48 L292.30,169.25 L293.30,173.98 L294.30,166.92 L295.30,171.56 L296.30,169.17 L297.30,171.73 L298.30,171.28 L299.30,174.60 L300.30,170.21 L301.30,172.14 L302.30,171.64 L303.30,172.86 L304.30,172.16 L305.30,173.55 L306.30,171.79 L307.30,172.56 L308.30,168.97 L309.30,173.34 L310.30,171.60 L311.30,174.60 L312.30,172.27 L313.30,173.10" fill="none" stroke="#e81828" stroke-width="0.75" stroke-linejoin="round"/>
<path d="M215.30,174.60 L216.30,173.37 L217.30,174.32 L218.30,171.35 L219.30,173.17 L220.30,171.33 L221.30,173.69 L222.30,172.24 L223.30,172.45 L224.30,171.96 L225.30,173.70 L226.30,167.68 L227.30,172.49 L228.30,170.03 L229.30,171.69 L230.30,168.47 L231.30,171.18 L232.30,168.72 L233.30,170.10 L234.30,167.98 L235.30,172.24 L236.30,166.54 L237.30,171.45 L238.30,165.30 L239.30,167.90 L240.30,164.54 L241.30,166.95 L242.30,162.99 L243.30,163.33 L244.30,159.00 L245.30,165.06 L246.30,157.59 L247.30,157.23 L248.30,148.52 L249.30,152.11" fill="none" stroke="#200" stroke-width="0.8" opacity="0.9"/>
<path d="M249.30,152.11 L250.30,142.11 L251.30,157.36 L252.30,130.52 L253.30,149.25 L254.30,133.77 L255.30,129.93 L256.30,125.59 L257.30,140.47 L258.30,137.79 L259.30,146.99 L260.30,142.64 L261.30,149.94 L262.30,141.37 L263.30,153.35 L264.30,150.49 L265.30,161.10 L266.30,154.88 L267.30,159.52 L268.30,155.87 L269.30,159.90 L270.30,153.71 L271.30,158.82 L272.30,157.39 L273.30,160.30 L274.30,157.96 L275.30,160.78 L276.30,153.60 L277.30,164.33 L278.30,155.26 L279.30,160.18 L280.30,150.25 L281.30,166.35 L282.30,157.88 L283.30,161.73 L284.30,161.24 L285.30,168.16 L286.30,164.04 L287.30,166.53 L288.30,163.11 L289.30,169.37 L290.30,167.07 L291.30,173.65 L292.30,168.46 L293.30,170.73 L294.30,169.68 L295.30,171.64 L296.30,168.75 L297.30,171.71 L298.30,170.12 L299.30,172.48 L300.30,170.89 L301.30,173.34 L302.30,171.99 L303.30,174.60 L304.30,171.63 L305.30,172.59 L306.30,170.78 L307.30,173.62 L308.30,172.30 L309.30,173.94 L310.30,172.12 L311.30,173.48 L312.30,172.79 L313.30,174.60" fill="none" stroke="#200" stroke-width="0.5" opacity="0.5"/>
<rect x="214.8" y="112.6" width="99.80000000000001" height="62.400000000000006" fill="none" stroke="#333" stroke-width="0.9"/>
<text x="223.7" y="106.8" font-family="'Liberation Serif', serif" font-size="6.9" font-weight="bold" font-style="normal" text-anchor="start" fill="#111" stroke="#111" stroke-width="0.35" textLength="80.19999999999999" lengthAdjust="spacingAndGlyphs">MSC from APC Assay (2 h)</text>
<line x1="213.0" y1="175.0" x2="214.8" y2="175.0" stroke="#333" stroke-width="0.7"/>
<text x="0" y="0" font-family="'Liberation Serif', serif" font-size="4.9" font-weight="bold" font-style="normal" text-anchor="middle" fill="#111" stroke="#111" stroke-width="0.15" transform="translate(212.20000000000002,175.0) rotate(-90)">0</text>
<line x1="213.0" y1="162.52" x2="214.8" y2="162.52" stroke="#333" stroke-width="0.7"/>
<text x="0" y="0" font-family="'Liberation Serif', serif" font-size="4.9" font-weight="bold" font-style="normal" text-anchor="middle" fill="#111" stroke="#111" stroke-width="0.15" transform="translate(212.20000000000002,162.52) rotate(-90)">10</text>
<line x1="213.0" y1="150.04" x2="214.8" y2="150.04" stroke="#333" stroke-width="0.7"/>
<text x="0" y="0" font-family="'Liberation Serif', serif" font-size="4.9" font-weight="bold" font-style="normal" text-anchor="middle" fill="#111" stroke="#111" stroke-width="0.15" transform="translate(212.20000000000002,150.04) rotate(-90)">20</text>
<line x1="213.0" y1="137.56" x2="214.8" y2="137.56" stroke="#333" stroke-width="0.7"/>
<text x="0" y="0" font-family="'Liberation Serif', serif" font-size="4.9" font-weight="bold" font-style="normal" text-anchor="middle" fill="#111" stroke="#111" stroke-width="0.15" transform="translate(212.20000000000002,137.56) rotate(-90)">30</text>
<line x1="213.0" y1="125.08" x2="214.8" y2="125.08" stroke="#333" stroke-width="0.7"/>
<text x="0" y="0" font-family="'Liberation Serif', serif" font-size="4.9" font-weight="bold" font-style="normal" text-anchor="middle" fill="#111" stroke="#111" stroke-width="0.15" transform="translate(212.20000000000002,125.08) rotate(-90)">40</text>
<line x1="213.0" y1="112.6" x2="214.8" y2="112.6" stroke="#333" stroke-width="0.7"/>
<text x="0" y="0" font-family="'Liberation Serif', serif" font-size="4.9" font-weight="bold" font-style="normal" text-anchor="middle" fill="#111" stroke="#111" stroke-width="0.15" transform="translate(212.20000000000002,112.6) rotate(-90)">50</text>
<line x1="213.8" y1="175.0" x2="214.8" y2="175.0" stroke="#333" stroke-width="0.5"/>
<line x1="213.8" y1="172.504" x2="214.8" y2="172.504" stroke="#333" stroke-width="0.5"/>
<line x1="213.8" y1="170.008" x2="214.8" y2="170.008" stroke="#333" stroke-width="0.5"/>
<line x1="213.8" y1="167.512" x2="214.8" y2="167.512" stroke="#333" stroke-width="0.5"/>
<line x1="213.8" y1="165.016" x2="214.8" y2="165.016" stroke="#333" stroke-width="0.5"/>
<line x1="213.8" y1="162.52" x2="214.8" y2="162.52" stroke="#333" stroke-width="0.5"/>
<line x1="213.8" y1="160.024" x2="214.8" y2="160.024" stroke="#333" stroke-width="0.5"/>
<line x1="213.8" y1="157.528" x2="214.8" y2="157.528" stroke="#333" stroke-width="0.5"/>
<line x1="213.8" y1="155.03199999999998" x2="214.8" y2="155.03199999999998" stroke="#333" stroke-width="0.5"/>
<line x1="213.8" y1="152.536" x2="214.8" y2="152.536" stroke="#333" stroke-width="0.5"/>
<line x1="213.8" y1="150.04" x2="214.8" y2="150.04" stroke="#333" stroke-width="0.5"/>
<line x1="213.8" y1="147.54399999999998" x2="214.8" y2="147.54399999999998" stroke="#333" stroke-width="0.5"/>
<line x1="213.8" y1="145.048" x2="214.8" y2="145.048" stroke="#333" stroke-width="0.5"/>
<line x1="213.8" y1="142.552" x2="214.8" y2="142.552" stroke="#333" stroke-width="0.5"/>
<line x1="213.8" y1="140.05599999999998" x2="214.8" y2="140.05599999999998" stroke="#333" stroke-width="0.5"/>
<line x1="213.8" y1="137.56" x2="214.8" y2="137.56" stroke="#333" stroke-width="0.5"/>
<line x1="213.8" y1="135.064" x2="214.8" y2="135.064" stroke="#333" stroke-width="0.5"/>
<line x1="213.8" y1="132.56799999999998" x2="214.8" y2="132.56799999999998" stroke="#333" stroke-width="0.5"/>
<line x1="213.8" y1="130.072" x2="214.8" y2="130.072" stroke="#333" stroke-width="0.5"/>
<line x1="213.8" y1="127.576" x2="214.8" y2="127.576" stroke="#333" stroke-width="0.5"/>
<line x1="213.8" y1="125.08" x2="214.8" y2="125.08" stroke="#333" stroke-width="0.5"/>
<line x1="213.8" y1="122.584" x2="214.8" y2="122.584" stroke="#333" stroke-width="0.5"/>
<line x1="213.8" y1="120.088" x2="214.8" y2="120.088" stroke="#333" stroke-width="0.5"/>
<line x1="213.8" y1="117.592" x2="214.8" y2="117.592" stroke="#333" stroke-width="0.5"/>
<line x1="213.8" y1="115.096" x2="214.8" y2="115.096" stroke="#333" stroke-width="0.5"/>
<line x1="213.8" y1="112.6" x2="214.8" y2="112.6" stroke="#333" stroke-width="0.5"/>
<text x="0" y="0" font-family="'Liberation Serif', serif" font-size="4.3" font-weight="bold" font-style="normal" text-anchor="middle" fill="#111" stroke="#111" stroke-width="0.15" transform="translate(206.8,144.8) rotate(-90)">Counts</text>
<line x1="214.8" y1="175" x2="214.8" y2="176.8" stroke="#333" stroke-width="0.7"/>
<text x="215.3" y="181.6" font-family="'Liberation Serif', serif" font-size="5.2" font-weight="bold" text-anchor="middle" fill="#111" stroke="#111" stroke-width="0.15">10<tspan font-size="3.5" dy="-2.0">0</tspan></text>
<line x1="222.31069839181635" y1="175" x2="222.31069839181635" y2="176.0" stroke="#333" stroke-width="0.4"/>
<line x1="226.7041753052556" y1="175" x2="226.7041753052556" y2="176.0" stroke="#333" stroke-width="0.4"/>
<line x1="229.82139678363268" y1="175" x2="229.82139678363268" y2="176.0" stroke="#333" stroke-width="0.4"/>
<line x1="232.2393016081837" y1="175" x2="232.2393016081837" y2="176.0" stroke="#333" stroke-width="0.4"/>
<line x1="234.21487369707194" y1="175" x2="234.21487369707194" y2="176.0" stroke="#333" stroke-width="0.4"/>
<line x1="235.88519609835572" y1="175" x2="235.88519609835572" y2="176.0" stroke="#333" stroke-width="0.4"/>
<line x1="237.332095175449" y1="175" x2="237.332095175449" y2="176.0" stroke="#333" stroke-width="0.4"/>
<line x1="238.60835061051117" y1="175" x2="238.60835061051117" y2="176.0" stroke="#333" stroke-width="0.4"/>
<line x1="239.75" y1="175" x2="239.75" y2="176.8" stroke="#333" stroke-width="0.7"/>
<text x="240.25" y="181.6" font-family="'Liberation Serif', serif" font-size="5.2" font-weight="bold" text-anchor="middle" fill="#111" stroke="#111" stroke-width="0.15">10<tspan font-size="3.5" dy="-2.0">1</tspan></text>
<line x1="247.26069839181633" y1="175" x2="247.26069839181633" y2="176.0" stroke="#333" stroke-width="0.4"/>
<line x1="251.6541753052556" y1="175" x2="251.6541753052556" y2="176.0" stroke="#333" stroke-width="0.4"/>
<line x1="254.77139678363267" y1="175" x2="254.77139678363267" y2="176.0" stroke="#333" stroke-width="0.4"/>
<line x1="257.18930160818365" y1="175" x2="257.18930160818365" y2="176.0" stroke="#333" stroke-width="0.4"/>
<line x1="259.1648736970719" y1="175" x2="259.1648736970719" y2="176.0" stroke="#333" stroke-width="0.4"/>
<line x1="260.8351960983557" y1="175" x2="260.8351960983557" y2="176.0" stroke="#333" stroke-width="0.4"/>
<line x1="262.282095175449" y1="175" x2="262.282095175449" y2="176.0" stroke="#333" stroke-width="0.4"/>
<line x1="263.5583506105112" y1="175" x2="263.5583506105112" y2="176.0" stroke="#333" stroke-width="0.4"/>
<line x1="264.70000000000005" y1="175" x2="264.70000000000005" y2="176.8" stroke="#333" stroke-width="0.7"/>
<text x="265.20000000000005" y="181.6" font-family="'Liberation Serif', serif" font-size="5.2" font-weight="bold" text-anchor="middle" fill="#111" stroke="#111" stroke-width="0.15">10<tspan font-size="3.5" dy="-2.0">2</tspan></text>
<line x1="272.2106983918164" y1="175" x2="272.2106983918164" y2="176.0" stroke="#333" stroke-width="0.4"/>
<line x1="276.60417530525564" y1="175" x2="276.60417530525564" y2="176.0" stroke="#333" stroke-width="0.4"/>
<line x1="279.7213967836327" y1="175" x2="279.7213967836327" y2="176.0" stroke="#333" stroke-width="0.4"/>
<line x1="282.1393016081837" y1="175" x2="282.1393016081837" y2="176.0" stroke="#333" stroke-width="0.4"/>
<line x1="284.11487369707197" y1="175" x2="284.11487369707197" y2="176.0" stroke="#333" stroke-width="0.4"/>
<line x1="285.78519609835575" y1="175" x2="285.78519609835575" y2="176.0" stroke="#333" stroke-width="0.4"/>
<line x1="287.23209517544905" y1="175" x2="287.23209517544905" y2="176.0" stroke="#333" stroke-width="0.4"/>
<line x1="288.50835061051123" y1="175" x2="288.50835061051123" y2="176.0" stroke="#333" stroke-width="0.4"/>
<line x1="289.65000000000003" y1="175" x2="289.65000000000003" y2="176.8" stroke="#333" stroke-width="0.7"/>
<text x="290.15000000000003" y="181.6" font-family="'Liberation Serif', serif" font-size="5.2" font-weight="bold" text-anchor="middle" fill="#111" stroke="#111" stroke-width="0.15">10<tspan font-size="3.5" dy="-2.0">3</tspan></text>
<line x1="297.16069839181637" y1="175" x2="297.16069839181637" y2="176.0" stroke="#333" stroke-width="0.4"/>
<line x1="301.5541753052556" y1="175" x2="301.5541753052556" y2="176.0" stroke="#333" stroke-width="0.4"/>
<line x1="304.6713967836327" y1="175" x2="304.6713967836327" y2="176.0" stroke="#333" stroke-width="0.4"/>
<line x1="307.0893016081837" y1="175" x2="307.0893016081837" y2="176.0" stroke="#333" stroke-width="0.4"/>
<line x1="309.06487369707196" y1="175" x2="309.06487369707196" y2="176.0" stroke="#333" stroke-width="0.4"/>
<line x1="310.73519609835574" y1="175" x2="310.73519609835574" y2="176.0" stroke="#333" stroke-width="0.4"/>
<line x1="312.18209517544904" y1="175" x2="312.18209517544904" y2="176.0" stroke="#333" stroke-width="0.4"/>
<line x1="313.4583506105112" y1="175" x2="313.4583506105112" y2="176.0" stroke="#333" stroke-width="0.4"/>
<line x1="314.6" y1="175" x2="314.6" y2="176.8" stroke="#333" stroke-width="0.7"/>
<text x="315.1" y="181.6" font-family="'Liberation Serif', serif" font-size="5.2" font-weight="bold" text-anchor="middle" fill="#111" stroke="#111" stroke-width="0.15">10<tspan font-size="3.5" dy="-2.0">4</tspan></text>
<text x="262.3" y="123.5" font-family="'Liberation Serif', serif" font-size="9.9" font-weight="bold" font-style="normal" text-anchor="start" fill="#111" stroke="#111" stroke-width="0.35" textLength="49.8" lengthAdjust="spacingAndGlyphs">75±6 pg/mL</text>
<path d="M216.1,260 L216.10,257.99 L216.80,257.80 L217.50,256.69 L218.20,256.91 L218.90,256.95 L219.60,256.97 L220.30,256.60 L221.00,255.83 L221.70,255.83 L222.40,256.76 L223.10,255.42 L223.80,255.42 L224.50,256.13 L225.20,254.61 L225.90,255.24 L226.60,255.10 L227.30,253.99 L228.00,253.34 L228.70,254.81 L229.40,253.66 L230.10,254.60 L230.80,251.60 L231.50,253.88 L232.20,252.09 L232.90,253.39 L233.60,251.60 L234.30,249.78 L235.00,254.16 L235.70,251.62 L236.40,250.12 L237.10,250.17 L237.80,250.23 L238.50,245.36 L239.20,246.02 L239.90,246.55 L240.60,238.46 L241.30,237.64 L242.00,226.76 L242.70,227.03 L243.40,222.39 L244.10,216.72 L244.80,215.94 L245.50,216.24 L246.20,216.44 L246.90,212.71 L247.60,216.94 L248.30,223.20 L249.00,222.32 L249.70,225.81 L250.40,227.13 L251.10,234.14 L251.80,231.77 L252.50,230.95 L253.20,232.73 L253.90,233.96 L254.60,241.07 L255.30,238.11 L256.00,238.85 L256.70,236.87 L257.40,243.36 L258.10,243.58 L258.80,244.21 L259.50,244.24 L260.20,247.15 L260.90,246.33 L261.60,249.69 L262.30,249.33 L263.00,251.06 L263.70,251.19 L264.40,252.89 L265.10,254.55 L265.80,252.85 L266.50,254.25 L267.20,255.63 L267.90,255.76 L268.60,255.96 L269.30,257.73 L270.00,257.59 L270.70,257.62 L271.40,258.02 L272.10,258.77 L272.80,259.74 L273.50,258.96 L274.20,259.57 L274.90,260.00 L275.60,260.00 L276.30,260.00 L277.00,260.00 L277.70,260.00 L278.40,260.00 L279.10,260.00 L279.80,260.00 L280.50,260.00 L281.20,260.00 L281.90,260.00 L282.60,260.00 L283.30,260.00 L284.00,260.00 L284.70,260.00 L285.40,260.00 L286.10,260.00 L286.80,260.00 L287.50,260.00 L288.20,260.00 L288.90,260.00 L289.60,260.00 L290.30,260.00 L291.00,260.00 L291.70,260.00 L292.40,260.00 L293.10,260.00 L293.80,260.00 L294.50,260.00 L295.20,260.00 L295.90,260.00 L296.60,260.00 L297.30,260.00 L298.00,260.00 L298.70,260.00 L299.40,260.00 L300.10,260.00 L300.80,260.00 L301.50,260.00 L302.20,260.00 L302.90,260.00 L303.60,260.00 L304.30,260.00 L305.00,260.00 L305.70,260.00 L306.40,260.00 L307.10,260.00 L307.80,260.00 L308.50,260.00 L309.20,260.00 L309.90,260.00 L310.60,260.00 L311.30,260.00 L312.00,260.00 L312.70,260.00 L313.40,260.00 L314.10,260.00 L314.80,260.00 L315.50,260.00 L316.20,260.00 L316.90,260.00 L317.60,260.00 L318.1,260 Z" fill="#5cf01a" stroke="none"/>
<path d="M224.50,251.73 L225.20,251.89 L225.90,250.58 L226.60,251.48 L227.30,252.26 L228.00,251.40 L228.70,250.80 L229.40,250.50 L230.10,251.26 L230.80,247.31 L231.50,250.94 L232.20,246.52 L232.90,249.70 L233.60,246.44 L234.30,243.86 L235.00,246.05 L235.70,247.78 L236.40,245.76 L237.10,245.30 L237.80,249.37 L238.50,246.57 L239.20,244.08 L239.90,243.77 L240.60,240.52 L241.30,236.84 L242.00,234.79 L242.70,232.18 L243.40,230.96 L244.10,231.64 L244.80,228.66 L245.50,227.93 L246.20,226.70 L246.90,224.84 L247.60,229.11 L248.30,223.23 L249.00,222.09 L249.70,225.60" fill="none" stroke="#111" stroke-width="0.6" opacity="0.6"/>
<path d="M216.10,258.30 L216.80,256.86 L217.50,256.82 L218.20,254.18 L218.90,258.43 L219.60,255.49 L220.30,256.80 L221.00,252.80 L221.70,249.86 L222.40,256.00 L223.10,251.75 L223.80,250.70 L224.50,251.43 L225.20,249.65 L225.90,253.85 L226.60,248.92 L227.30,249.54 L228.00,249.96 L228.70,250.80 L229.40,248.71 L230.10,250.39 L230.80,249.11 L231.50,250.17 L232.20,252.74 L232.90,248.67 L233.60,247.88 L234.30,246.69 L235.00,249.52 L235.70,248.06 L236.40,246.96 L237.10,247.99 L237.80,246.33 L238.50,244.87 L239.20,249.55 L239.90,251.05 L240.60,245.33 L241.30,242.52 L242.00,242.16 L242.70,240.54 L243.40,241.87 L244.10,240.35 L244.80,234.48 L245.50,236.85 L246.20,237.24 L246.90,233.02 L247.60,220.81 L248.30,219.78 L249.00,225.09 L249.70,223.86 L250.40,219.47 L251.10,221.44 L251.80,215.13 L252.50,219.83 L253.20,223.29 L253.90,216.74 L254.60,224.57 L255.30,224.09 L256.00,226.66 L256.70,229.37 L257.40,229.46 L258.10,234.03 L258.80,238.63 L259.50,241.00 L260.20,240.19 L260.90,240.52 L261.60,240.45 L262.30,241.93 L263.00,242.56 L263.70,245.10 L264.40,248.29 L265.10,249.31 L265.80,252.78 L266.50,250.82 L267.20,251.09 L267.90,252.32 L268.60,253.78 L269.30,254.34 L270.00,253.55 L270.70,255.12 L271.40,254.87 L272.10,255.45 L272.80,255.94 L273.50,255.00 L274.20,256.92 L274.90,256.83 L275.60,257.35 L276.30,257.44 L277.00,255.45 L277.70,255.41 L278.40,257.01 L279.10,256.59 L279.80,256.13 L280.50,256.50 L281.20,256.23 L281.90,258.32 L282.60,257.85 L283.30,257.01 L284.00,256.28 L284.70,257.40 L285.40,258.23 L286.10,257.93 L286.80,258.25 L287.50,258.49 L288.20,256.88 L288.90,258.49 L289.60,258.14 L290.30,256.83 L291.00,257.60 L291.70,258.25 L292.40,258.89 L293.10,258.29 L293.80,257.60" fill="none" stroke="#dc1420" stroke-width="1.45" stroke-linejoin="round"/>
<path d="M216.10,257.80 L216.80,256.04 L217.50,256.56 L218.20,255.60 L218.90,255.98 L219.60,254.71 L220.30,252.90 L221.00,256.10 L221.70,253.40 L222.40,252.21 L223.10,252.91 L223.80,251.99 L224.50,249.56 L225.20,246.80 L225.90,249.20 L226.60,249.64 L227.30,253.05 L228.00,246.34 L228.70,249.72 L229.40,249.80 L230.10,251.77 L230.80,249.58 L231.50,251.49 L232.20,248.88 L232.90,247.68 L233.60,248.16 L234.30,247.42 L235.00,249.77 L235.70,245.03 L236.40,249.39 L237.10,251.98 L237.80,248.82 L238.50,249.85 L239.20,250.08 L239.90,248.42 L240.60,246.25 L241.30,248.15 L242.00,244.33 L242.70,238.64 L243.40,238.69 L244.10,239.12 L244.80,236.26 L245.50,234.92 L246.20,232.63 L246.90,227.91 L247.60,228.18 L248.30,233.92 L249.00,223.08 L249.70,224.91 L250.40,217.73 L251.10,221.38 L251.80,218.74 L252.50,211.27 L253.20,223.83 L253.90,225.06 L254.60,227.96 L255.30,233.27 L256.00,233.14 L256.70,227.26 L257.40,232.43 L258.10,238.11 L258.80,238.47 L259.50,233.71 L260.20,239.38 L260.90,239.79 L261.60,239.53 L262.30,238.60 L263.00,238.98 L263.70,242.95 L264.40,246.54 L265.10,247.71 L265.80,245.79 L266.50,247.92 L267.20,252.32 L267.90,252.30 L268.60,253.20 L269.30,254.06 L270.00,255.33 L270.70,256.89 L271.40,256.31 L272.10,257.88 L272.80,254.71 L273.50,255.64 L274.20,257.75 L274.90,254.92 L275.60,255.62 L276.30,258.79 L277.00,254.87 L277.70,256.10 L278.40,254.89 L279.10,258.34 L279.80,256.59 L280.50,256.75 L281.20,257.03 L281.90,257.11 L282.60,256.30 L283.30,258.83 L284.00,258.62 L284.70,258.81 L285.40,258.08 L286.10,258.21 L286.80,257.43 L287.50,257.62 L288.20,257.93 L288.90,258.62 L289.60,258.52 L290.30,257.50 L291.00,257.77 L291.70,258.38 L292.40,258.75 L293.10,257.42 L293.80,258.99" fill="none" stroke="#e81828" stroke-width="0.75" stroke-linejoin="round"/>
<path d="M216.10,257.86 L216.80,256.34 L217.50,256.91 L218.20,255.40 L218.90,256.89 L219.60,254.17 L220.30,254.47 L221.00,255.94 L221.70,252.43 L222.40,253.81 L223.10,250.11 L223.80,252.45 L224.50,251.22 L225.20,250.06 L225.90,250.89 L226.60,249.84 L227.30,250.99 L228.00,248.94 L228.70,249.86 L229.40,249.40 L230.10,254.04 L230.80,247.59 L231.50,249.29 L232.20,251.97 L232.90,248.46 L233.60,247.42 L234.30,246.15 L235.00,249.88 L235.70,245.32 L236.40,248.31 L237.10,244.13 L237.80,248.69 L238.50,247.12 L239.20,248.61 L239.90,249.63 L240.60,244.90 L241.30,243.71 L242.00,240.92 L242.70,240.44 L243.40,241.77 L244.10,242.54 L244.80,238.20 L245.50,236.26 L246.20,234.62 L246.90,228.72 L247.60,226.94 L248.30,226.23 L249.00,222.48 L249.70,222.05 L250.40,219.53 L251.10,216.63 L251.80,216.25 L252.50,221.76 L253.20,224.62 L253.90,216.37 L254.60,222.44 L255.30,221.46 L256.00,231.37 L256.70,229.41 L257.40,230.27 L258.10,236.00 L258.80,235.24 L259.50,233.75 L260.20,234.58 L260.90,235.10 L261.60,242.31 L262.30,245.01 L263.00,242.64 L263.70,243.53 L264.40,246.50 L265.10,250.33 L265.80,248.04 L266.50,249.34 L267.20,251.00 L267.90,253.67 L268.60,253.25 L269.30,253.18 L270.00,255.28 L270.70,257.17 L271.40,255.30 L272.10,255.55 L272.80,256.13 L273.50,255.40 L274.20,256.94 L274.90,256.57 L275.60,256.89 L276.30,256.20 L277.00,255.42 L277.70,257.17 L278.40,255.26 L279.10,255.77 L279.80,256.46 L280.50,256.69 L281.20,255.75 L281.90,257.43 L282.60,257.42 L283.30,258.24 L284.00,257.05 L284.70,256.41 L285.40,257.14 L286.10,257.33 L286.80,257.91 L287.50,257.73 L288.20,258.98 L288.90,257.33 L289.60,258.44 L290.30,258.99 L291.00,258.84 L291.70,258.97 L292.40,257.99 L293.10,257.90 L293.80,259.38" fill="none" stroke="#200" stroke-width="0.65" opacity="0.8"/>
<line x1="216.0" y1="221.6" x2="216.0" y2="260" stroke="#e01010" stroke-width="1.0"/>
<rect x="215.6" y="197.6" width="103.00000000000003" height="62.400000000000006" fill="none" stroke="#333" stroke-width="0.9"/>
<text x="221" y="193.5" font-family="'Liberation Serif', serif" font-size="6.9" font-weight="bold" font-style="normal" text-anchor="start" fill="#111" stroke="#111" stroke-width="0.35" textLength="84.10000000000002" lengthAdjust="spacingAndGlyphs">MSC from APC Assay (12 h)</text>
<line x1="213.79999999999998" y1="260.0" x2="215.6" y2="260.0" stroke="#333" stroke-width="0.7"/>
<text x="0" y="0" font-family="'Liberation Serif', serif" font-size="4.9" font-weight="bold" font-style="normal" text-anchor="middle" fill="#111" stroke="#111" stroke-width="0.15" transform="translate(213.0,260.0) rotate(-90)">0</text>
<line x1="213.79999999999998" y1="247.52" x2="215.6" y2="247.52" stroke="#333" stroke-width="0.7"/>
<text x="0" y="0" font-family="'Liberation Serif', serif" font-size="4.9" font-weight="bold" font-style="normal" text-anchor="middle" fill="#111" stroke="#111" stroke-width="0.15" transform="translate(213.0,247.52) rotate(-90)">10</text>
<line x1="213.79999999999998" y1="235.04" x2="215.6" y2="235.04" stroke="#333" stroke-width="0.7"/>
<text x="0" y="0" font-family="'Liberation Serif', serif" font-size="4.9" font-weight="bold" font-style="normal" text-anchor="middle" fill="#111" stroke="#111" stroke-width="0.15" transform="translate(213.0,235.04) rotate(-90)">20</text>
<line x1="213.79999999999998" y1="222.56" x2="215.6" y2="222.56" stroke="#333" stroke-width="0.7"/>
<text x="0" y="0" font-family="'Liberation Serif', serif" font-size="4.9" font-weight="bold" font-style="normal" text-anchor="middle" fill="#111" stroke="#111" stroke-width="0.15" transform="translate(213.0,222.56) rotate(-90)">30</text>
<line x1="213.79999999999998" y1="210.07999999999998" x2="215.6" y2="210.07999999999998" stroke="#333" stroke-width="0.7"/>
<text x="0" y="0" font-family="'Liberation Serif', serif" font-size="4.9" font-weight="bold" font-style="normal" text-anchor="middle" fill="#111" stroke="#111" stroke-width="0.15" transform="translate(213.0,210.07999999999998) rotate(-90)">40</text>
<line x1="213.79999999999998" y1="197.6" x2="215.6" y2="197.6" stroke="#333" stroke-width="0.7"/>
<text x="0" y="0" font-family="'Liberation Serif', serif" font-size="4.9" font-weight="bold" font-style="normal" text-anchor="middle" fill="#111" stroke="#111" stroke-width="0.15" transform="translate(213.0,197.6) rotate(-90)">50</text>
<line x1="214.6" y1="260.0" x2="215.6" y2="260.0" stroke="#333" stroke-width="0.5"/>
<line x1="214.6" y1="257.504" x2="215.6" y2="257.504" stroke="#333" stroke-width="0.5"/>
<line x1="214.6" y1="255.008" x2="215.6" y2="255.008" stroke="#333" stroke-width="0.5"/>
<line x1="214.6" y1="252.512" x2="215.6" y2="252.512" stroke="#333" stroke-width="0.5"/>
<line x1="214.6" y1="250.016" x2="215.6" y2="250.016" stroke="#333" stroke-width="0.5"/>
<line x1="214.6" y1="247.52" x2="215.6" y2="247.52" stroke="#333" stroke-width="0.5"/>
<line x1="214.6" y1="245.024" x2="215.6" y2="245.024" stroke="#333" stroke-width="0.5"/>
<line x1="214.6" y1="242.528" x2="215.6" y2="242.528" stroke="#333" stroke-width="0.5"/>
<line x1="214.6" y1="240.03199999999998" x2="215.6" y2="240.03199999999998" stroke="#333" stroke-width="0.5"/>
<line x1="214.6" y1="237.536" x2="215.6" y2="237.536" stroke="#333" stroke-width="0.5"/>
<line x1="214.6" y1="235.04" x2="215.6" y2="235.04" stroke="#333" stroke-width="0.5"/>
<line x1="214.6" y1="232.54399999999998" x2="215.6" y2="232.54399999999998" stroke="#333" stroke-width="0.5"/>
<line x1="214.6" y1="230.048" x2="215.6" y2="230.048" stroke="#333" stroke-width="0.5"/>
<line x1="214.6" y1="227.552" x2="215.6" y2="227.552" stroke="#333" stroke-width="0.5"/>
<line x1="214.6" y1="225.05599999999998" x2="215.6" y2="225.05599999999998" stroke="#333" stroke-width="0.5"/>
<line x1="214.6" y1="222.56" x2="215.6" y2="222.56" stroke="#333" stroke-width="0.5"/>
<line x1="214.6" y1="220.064" x2="215.6" y2="220.064" stroke="#333" stroke-width="0.5"/>
<line x1="214.6" y1="217.56799999999998" x2="215.6" y2="217.56799999999998" stroke="#333" stroke-width="0.5"/>
<line x1="214.6" y1="215.072" x2="215.6" y2="215.072" stroke="#333" stroke-width="0.5"/>
<line x1="214.6" y1="212.576" x2="215.6" y2="212.576" stroke="#333" stroke-width="0.5"/>
<line x1="214.6" y1="210.07999999999998" x2="215.6" y2="210.07999999999998" stroke="#333" stroke-width="0.5"/>
<line x1="214.6" y1="207.584" x2="215.6" y2="207.584" stroke="#333" stroke-width="0.5"/>
<line x1="214.6" y1="205.088" x2="215.6" y2="205.088" stroke="#333" stroke-width="0.5"/>
<line x1="214.6" y1="202.59199999999998" x2="215.6" y2="202.59199999999998" stroke="#333" stroke-width="0.5"/>
<line x1="214.6" y1="200.096" x2="215.6" y2="200.096" stroke="#333" stroke-width="0.5"/>
<line x1="214.6" y1="197.6" x2="215.6" y2="197.6" stroke="#333" stroke-width="0.5"/>
<text x="0" y="0" font-family="'Liberation Serif', serif" font-size="4.3" font-weight="bold" font-style="normal" text-anchor="middle" fill="#111" stroke="#111" stroke-width="0.15" transform="translate(207.6,229.8) rotate(-90)">Counts</text>
<line x1="215.6" y1="260" x2="215.6" y2="261.8" stroke="#333" stroke-width="0.7"/>
<text x="216.1" y="266.6" font-family="'Liberation Serif', serif" font-size="5.2" font-weight="bold" text-anchor="middle" fill="#111" stroke="#111" stroke-width="0.15">10<tspan font-size="3.5" dy="-2.0">0</tspan></text>
<line x1="223.35152238834752" y1="260" x2="223.35152238834752" y2="261.0" stroke="#333" stroke-width="0.4"/>
<line x1="227.8858723090313" y1="260" x2="227.8858723090313" y2="261.0" stroke="#333" stroke-width="0.4"/>
<line x1="231.10304477669504" y1="260" x2="231.10304477669504" y2="261.0" stroke="#333" stroke-width="0.4"/>
<line x1="233.59847761165247" y1="260" x2="233.59847761165247" y2="261.0" stroke="#333" stroke-width="0.4"/>
<line x1="235.63739469737882" y1="260" x2="235.63739469737882" y2="261.0" stroke="#333" stroke-width="0.4"/>
<line x1="237.3612745303671" y1="260" x2="237.3612745303671" y2="261.0" stroke="#333" stroke-width="0.4"/>
<line x1="238.85456716504254" y1="260" x2="238.85456716504254" y2="261.0" stroke="#333" stroke-width="0.4"/>
<line x1="240.1717446180626" y1="260" x2="240.1717446180626" y2="261.0" stroke="#333" stroke-width="0.4"/>
<line x1="241.35" y1="260" x2="241.35" y2="261.8" stroke="#333" stroke-width="0.7"/>
<text x="241.85" y="266.6" font-family="'Liberation Serif', serif" font-size="5.2" font-weight="bold" text-anchor="middle" fill="#111" stroke="#111" stroke-width="0.15">10<tspan font-size="3.5" dy="-2.0">1</tspan></text>
<line x1="249.10152238834752" y1="260" x2="249.10152238834752" y2="261.0" stroke="#333" stroke-width="0.4"/>
<line x1="253.6358723090313" y1="260" x2="253.6358723090313" y2="261.0" stroke="#333" stroke-width="0.4"/>
<line x1="256.853044776695" y1="260" x2="256.853044776695" y2="261.0" stroke="#333" stroke-width="0.4"/>
<line x1="259.34847761165247" y1="260" x2="259.34847761165247" y2="261.0" stroke="#333" stroke-width="0.4"/>
<line x1="261.3873946973788" y1="260" x2="261.3873946973788" y2="261.0" stroke="#333" stroke-width="0.4"/>
<line x1="263.1112745303671" y1="260" x2="263.1112745303671" y2="261.0" stroke="#333" stroke-width="0.4"/>
<line x1="264.60456716504257" y1="260" x2="264.60456716504257" y2="261.0" stroke="#333" stroke-width="0.4"/>
<line x1="265.92174461806263" y1="260" x2="265.92174461806263" y2="261.0" stroke="#333" stroke-width="0.4"/>
<line x1="267.1" y1="260" x2="267.1" y2="261.8" stroke="#333" stroke-width="0.7"/>
<text x="267.6" y="266.6" font-family="'Liberation Serif', serif" font-size="5.2" font-weight="bold" text-anchor="middle" fill="#111" stroke="#111" stroke-width="0.15">10<tspan font-size="3.5" dy="-2.0">2</tspan></text>
<line x1="274.8515223883475" y1="260" x2="274.8515223883475" y2="261.0" stroke="#333" stroke-width="0.4"/>
<line x1="279.38587230903136" y1="260" x2="279.38587230903136" y2="261.0" stroke="#333" stroke-width="0.4"/>
<line x1="282.60304477669507" y1="260" x2="282.60304477669507" y2="261.0" stroke="#333" stroke-width="0.4"/>
<line x1="285.0984776116525" y1="260" x2="285.0984776116525" y2="261.0" stroke="#333" stroke-width="0.4"/>
<line x1="287.13739469737885" y1="260" x2="287.13739469737885" y2="261.0" stroke="#333" stroke-width="0.4"/>
<line x1="288.86127453036715" y1="260" x2="288.86127453036715" y2="261.0" stroke="#333" stroke-width="0.4"/>
<line x1="290.35456716504257" y1="260" x2="290.35456716504257" y2="261.0" stroke="#333" stroke-width="0.4"/>
<line x1="291.67174461806263" y1="260" x2="291.67174461806263" y2="261.0" stroke="#333" stroke-width="0.4"/>
<line x1="292.85" y1="260" x2="292.85" y2="261.8" stroke="#333" stroke-width="0.7"/>
<text x="293.35" y="266.6" font-family="'Liberation Serif', serif" font-size="5.2" font-weight="bold" text-anchor="middle" fill="#111" stroke="#111" stroke-width="0.15">10<tspan font-size="3.5" dy="-2.0">3</tspan></text>
<line x1="300.6015223883475" y1="260" x2="300.6015223883475" y2="261.0" stroke="#333" stroke-width="0.4"/>
<line x1="305.13587230903136" y1="260" x2="305.13587230903136" y2="261.0" stroke="#333" stroke-width="0.4"/>
<line x1="308.35304477669507" y1="260" x2="308.35304477669507" y2="261.0" stroke="#333" stroke-width="0.4"/>
<line x1="310.8484776116525" y1="260" x2="310.8484776116525" y2="261.0" stroke="#333" stroke-width="0.4"/>
<line x1="312.88739469737885" y1="260" x2="312.88739469737885" y2="261.0" stroke="#333" stroke-width="0.4"/>
<line x1="314.61127453036715" y1="260" x2="314.61127453036715" y2="261.0" stroke="#333" stroke-width="0.4"/>
<line x1="316.10456716504257" y1="260" x2="316.10456716504257" y2="261.0" stroke="#333" stroke-width="0.4"/>
<line x1="317.42174461806263" y1="260" x2="317.42174461806263" y2="261.0" stroke="#333" stroke-width="0.4"/>
<line x1="318.6" y1="260" x2="318.6" y2="261.8" stroke="#333" stroke-width="0.7"/>
<text x="319.1" y="266.6" font-family="'Liberation Serif', serif" font-size="5.2" font-weight="bold" text-anchor="middle" fill="#111" stroke="#111" stroke-width="0.15">10<tspan font-size="3.5" dy="-2.0">4</tspan></text>
<text x="255.8" y="209.5" font-family="'Liberation Serif', serif" font-size="9.9" font-weight="bold" font-style="normal" text-anchor="start" fill="#111" stroke="#111" stroke-width="0.35" textLength="61.0" lengthAdjust="spacingAndGlyphs">402±10 pg/mL</text>
<text x="258.9" y="278.9" font-family="'Liberation Serif', serif" font-size="8.6" font-weight="bold" font-style="normal" text-anchor="start" fill="#111" stroke="#111" stroke-width="0.4" textLength="13.3" lengthAdjust="spacingAndGlyphs">MFI</text>
<text x="328.9" y="11.6" font-family="'Liberation Sans', sans-serif" font-size="13.6" font-weight="bold" font-style="normal" text-anchor="start" fill="#111" stroke="#111" stroke-width="0.35">C</text>
<rect x="342.8" y="20.5" width="173.49999999999994" height="165.0" fill="none" stroke="#333" stroke-width="0.9"/>
<line x1="340.2" y1="185.5" x2="342.8" y2="185.5" stroke="#333" stroke-width="0.9"/>
<text x="337.7" y="187.4" font-family="'Liberation Serif', serif" font-size="5.6" font-weight="bold" font-style="normal" text-anchor="end" fill="#111" stroke="#111" stroke-width="0.45">0</text>
<line x1="340.2" y1="167.15" x2="342.8" y2="167.15" stroke="#333" stroke-width="0.9"/>
<text x="337.7" y="169.05" font-family="'Liberation Serif', serif" font-size="5.6" font-weight="bold" font-style="normal" text-anchor="end" fill="#111" stroke="#111" stroke-width="0.45">1</text>
<line x1="340.2" y1="148.8" x2="342.8" y2="148.8" stroke="#333" stroke-width="0.9"/>
<text x="337.7" y="150.70000000000002" font-family="'Liberation Serif', serif" font-size="5.6" font-weight="bold" font-style="normal" text-anchor="end" fill="#111" stroke="#111" stroke-width="0.45">2</text>
<line x1="340.2" y1="130.45" x2="342.8" y2="130.45" stroke="#333" stroke-width="0.9"/>
<text x="337.7" y="132.35" font-family="'Liberation Serif', serif" font-size="5.6" font-weight="bold" font-style="normal" text-anchor="end" fill="#111" stroke="#111" stroke-width="0.45">3</text>
<line x1="340.2" y1="112.1" x2="342.8" y2="112.1" stroke="#333" stroke-width="0.9"/>
<text x="337.7" y="114.0" font-family="'Liberation Serif', serif" font-size="5.6" font-weight="bold" font-style="normal" text-anchor="end" fill="#111" stroke="#111" stroke-width="0.45">4</text>
<line x1="340.2" y1="93.75" x2="342.8" y2="93.75" stroke="#333" stroke-width="0.9"/>
<text x="337.7" y="95.65" font-family="'Liberation Serif', serif" font-size="5.6" font-weight="bold" font-style="normal" text-anchor="end" fill="#111" stroke="#111" stroke-width="0.45">5</text>
<line x1="340.2" y1="75.39999999999999" x2="342.8" y2="75.39999999999999" stroke="#333" stroke-width="0.9"/>
<text x="337.7" y="77.3" font-family="'Liberation Serif', serif" font-size="5.6" font-weight="bold" font-style="normal" text-anchor="end" fill="#111" stroke="#111" stroke-width="0.45">6</text>
<line x1="340.2" y1="57.04999999999998" x2="342.8" y2="57.04999999999998" stroke="#333" stroke-width="0.9"/>
<text x="337.7" y="58.94999999999998" font-family="'Liberation Serif', serif" font-size="5.6" font-weight="bold" font-style="normal" text-anchor="end" fill="#111" stroke="#111" stroke-width="0.45">7</text>
<line x1="340.2" y1="38.69999999999999" x2="342.8" y2="38.69999999999999" stroke="#333" stroke-width="0.9"/>
<text x="337.7" y="40.59999999999999" font-family="'Liberation Serif', serif" font-size="5.6" font-weight="bold" font-style="normal" text-anchor="end" fill="#111" stroke="#111" stroke-width="0.45">8</text>
<line x1="340.2" y1="20.349999999999994" x2="342.8" y2="20.349999999999994" stroke="#333" stroke-width="0.9"/>
<text x="337.7" y="22.249999999999993" font-family="'Liberation Serif', serif" font-size="5.6" font-weight="bold" font-style="normal" text-anchor="end" fill="#111" stroke="#111" stroke-width="0.45">9</text>
<text x="0" y="0" font-family="'Liberation Serif', serif" font-size="6.6" font-weight="normal" font-style="normal" text-anchor="middle" fill="#111" stroke="#111" stroke-width="0.25" transform="translate(332.0,103.6) rotate(-90)">S.I.</text>
<rect x="388.6" y="25.3" width="15.4" height="4.099999999999998" fill="#fff" stroke="#333" stroke-width="0.9"/>
<rect x="388.6" y="31.9" width="15.4" height="4.100000000000001" fill="url(#px)" stroke="#333" stroke-width="0.9"/>
<rect x="388.6" y="38.7" width="15.4" height="4.399999999999999" fill="url(#pdC)" stroke="#333" stroke-width="0.9"/>
<text x="407.8" y="29.6" font-family="'Liberation Serif', serif" font-size="7.0" font-weight="bold" font-style="normal" text-anchor="start" fill="#111" stroke="#111" stroke-width="0.45" textLength="37.0" lengthAdjust="spacingAndGlyphs">Unstimulated</text>
<text x="407.8" y="36.2" font-family="'Liberation Serif', serif" font-size="7.0" font-weight="bold" font-style="normal" text-anchor="start" fill="#111" stroke="#111" stroke-width="0.45" textLength="37.0" lengthAdjust="spacingAndGlyphs">10 U/ml IFNγ</text>
<text x="407.8" y="43.1" font-family="'Liberation Serif', serif" font-size="7.0" font-weight="bold" font-style="normal" text-anchor="start" fill="#111" stroke="#111" stroke-width="0.45" textLength="41.0" lengthAdjust="spacingAndGlyphs">100 U/ml IFNγ</text>
<rect x="357.2" y="50" width="9.5" height="135.5" fill="#fff" stroke="#333" stroke-width="0.9"/>
<line x1="361.95" y1="50" x2="361.95" y2="45.7" stroke="#333" stroke-width="0.9"/>
<line x1="359.65" y1="45.7" x2="364.25" y2="45.7" stroke="#333" stroke-width="0.9"/>
<rect x="366.7" y="67.6" width="9.300000000000011" height="117.9" fill="url(#px)" stroke="#333" stroke-width="0.9"/>
<line x1="371.35" y1="67.6" x2="371.35" y2="63.4" stroke="#333" stroke-width="0.9"/>
<line x1="369.05" y1="63.4" x2="373.65000000000003" y2="63.4" stroke="#333" stroke-width="0.9"/>
<rect x="376" y="127.2" width="9.800000000000011" height="58.3" fill="url(#pdC)" stroke="#333" stroke-width="0.9"/>
<line x1="380.9" y1="127.2" x2="380.9" y2="118.8" stroke="#333" stroke-width="0.9"/>
<line x1="378.59999999999997" y1="118.8" x2="383.2" y2="118.8" stroke="#333" stroke-width="0.9"/>
<rect x="396.2" y="52.8" width="9.100000000000023" height="132.7" fill="#fff" stroke="#333" stroke-width="0.9"/>
<line x1="400.75" y1="52.8" x2="400.75" y2="45.1" stroke="#333" stroke-width="0.9"/>
<line x1="398.45" y1="45.1" x2="403.05" y2="45.1" stroke="#333" stroke-width="0.9"/>
<rect x="405.3" y="68" width="9.899999999999977" height="117.5" fill="url(#px)" stroke="#333" stroke-width="0.9"/>
<line x1="410.25" y1="68" x2="410.25" y2="62.2" stroke="#333" stroke-width="0.9"/>
<line x1="407.95" y1="62.2" x2="412.55" y2="62.2" stroke="#333" stroke-width="0.9"/>
<rect x="415.2" y="136" width="9.600000000000023" height="49.5" fill="url(#pdC)" stroke="#333" stroke-width="0.9"/>
<line x1="420.0" y1="136" x2="420.0" y2="132.7" stroke="#333" stroke-width="0.9"/>
<line x1="417.7" y1="132.7" x2="422.3" y2="132.7" stroke="#333" stroke-width="0.9"/>
<rect x="435.3" y="62" width="9.099999999999966" height="123.5" fill="#fff" stroke="#333" stroke-width="0.9"/>
<line x1="439.85" y1="62" x2="439.85" y2="54.5" stroke="#333" stroke-width="0.9"/>
<line x1="437.55" y1="54.5" x2="442.15000000000003" y2="54.5" stroke="#333" stroke-width="0.9"/>
<rect x="444.4" y="65.2" width="9.900000000000034" height="120.3" fill="url(#px)" stroke="#333" stroke-width="0.9"/>
<line x1="449.35" y1="65.2" x2="449.35" y2="60.9" stroke="#333" stroke-width="0.9"/>
<line x1="447.05" y1="60.9" x2="451.65000000000003" y2="60.9" stroke="#333" stroke-width="0.9"/>
<rect x="454.3" y="172.1" width="9.5" height="13.400000000000006" fill="url(#pdC)" stroke="#333" stroke-width="0.9"/>
<line x1="459.05" y1="172.1" x2="459.05" y2="170.4" stroke="#333" stroke-width="0.9"/>
<line x1="456.75" y1="170.4" x2="461.35" y2="170.4" stroke="#333" stroke-width="0.9"/>
<rect x="474.2" y="56" width="9.100000000000023" height="129.5" fill="#fff" stroke="#333" stroke-width="0.9"/>
<line x1="478.75" y1="56" x2="478.75" y2="51.7" stroke="#333" stroke-width="0.9"/>
<line x1="476.45" y1="51.7" x2="481.05" y2="51.7" stroke="#333" stroke-width="0.9"/>
<rect x="483.3" y="56" width="10.0" height="129.5" fill="url(#px)" stroke="#333" stroke-width="0.9"/>
<line x1="488.3" y1="56" x2="488.3" y2="51.7" stroke="#333" stroke-width="0.9"/>
<line x1="486.0" y1="51.7" x2="490.6" y2="51.7" stroke="#333" stroke-width="0.9"/>
<rect x="493.3" y="176.3" width="9.5" height="9.199999999999989" fill="url(#pdC)" stroke="#333" stroke-width="0.9"/>
<line x1="498.05" y1="176.3" x2="498.05" y2="171.6" stroke="#333" stroke-width="0.9"/>
<line x1="495.75" y1="171.6" x2="500.35" y2="171.6" stroke="#333" stroke-width="0.9"/>
<circle cx="379.7" cy="116.7" r="1.2" fill="#111"/>
<circle cx="383.3" cy="116.7" r="1.2" fill="#111"/>
<circle cx="418.4" cy="130.4" r="1.2" fill="#111"/>
<circle cx="422" cy="130.4" r="1.2" fill="#111"/>
<circle cx="458.6" cy="166.4" r="1.2" fill="#111"/>
<circle cx="498.4" cy="166.8" r="1.2" fill="#111"/>
<text x="357.0" y="194.5" font-family="'Liberation Serif', serif" font-size="6.3" font-weight="bold" font-style="italic" text-anchor="start" fill="#111" stroke="#111" stroke-width="0.45" textLength="29.8" lengthAdjust="spacingAndGlyphs">C. albicans</text>
<text x="433.8" y="193.7" font-family="'Liberation Serif', serif" font-size="6.3" font-weight="bold" font-style="italic" text-anchor="start" fill="#111" stroke="#111" stroke-width="0.45" textLength="30.2" lengthAdjust="spacingAndGlyphs">C. albicans</text>
<text x="398.9" y="194.5" font-family="'Liberation Serif', serif" font-size="6.3" font-weight="bold" font-style="italic" text-anchor="start" fill="#111" stroke="#111" stroke-width="0.45" textLength="22.6" lengthAdjust="spacingAndGlyphs">T. toxoid</text>
<text x="477.0" y="193.7" font-family="'Liberation Serif', serif" font-size="6.3" font-weight="bold" font-style="italic" text-anchor="start" fill="#111" stroke="#111" stroke-width="0.45" textLength="24.0" lengthAdjust="spacingAndGlyphs">T. toxoid</text>
<line x1="359.9" y1="197.1" x2="421.3" y2="197.1" stroke="#333" stroke-width="0.9"/>
<line x1="435.4" y1="196.4" x2="502.7" y2="196.4" stroke="#333" stroke-width="0.9"/>
<text x="390.4" y="204.2" font-family="'Liberation Serif', serif" font-size="6.3" font-weight="bold" font-style="normal" text-anchor="middle" fill="#111" stroke="#111" stroke-width="0.45" textLength="8.6" lengthAdjust="spacingAndGlyphs">2-h</text>
<text x="468.8" y="202.6" font-family="'Liberation Serif', serif" font-size="6.3" font-weight="bold" font-style="normal" text-anchor="middle" fill="#111" stroke="#111" stroke-width="0.45" textLength="11.6" lengthAdjust="spacingAndGlyphs">12-h</text>
</svg>
</body></html>
